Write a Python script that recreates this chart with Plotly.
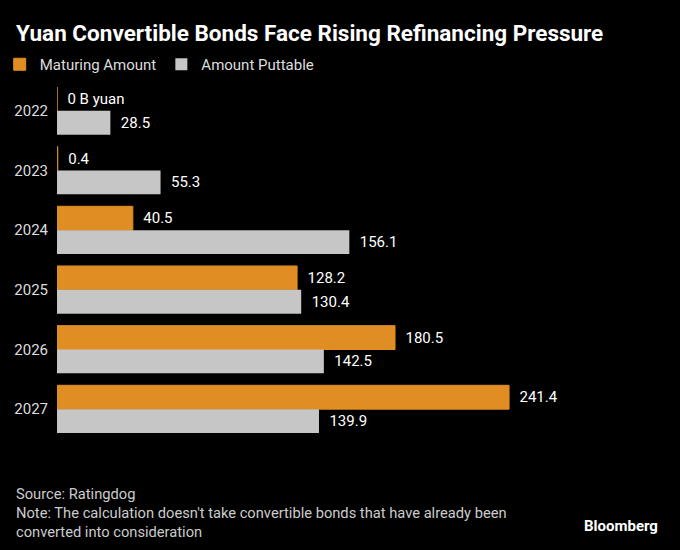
import plotly.graph_objects as go

years = ["2022", "2023", "2024", "2025", "2026", "2027"]
maturing = [0, 0.4, 40.5, 128.2, 180.5, 241.4]
puttable = [28.5, 55.3, 156.1, 130.4, 142.5, 139.9]
maturing_labels = ["0 B yuan", "0.4", "40.5", "128.2", "180.5", "241.4"]
puttable_labels = ["28.5", "55.3", "156.1", "130.4", "142.5", "139.9"]
footer_lines = [
    "Source: Ratingdog",
    "Note: The calculation doesn't take convertible bonds that have already been",
    "converted into consideration",
]

ORANGE = "#E08D24"
GREY = "#C6C6C6"
FONT = "Roboto, Arial, sans-serif"

fig = go.Figure()
fig.add_trace(go.Bar(
    y=years, x=maturing, orientation="h", name="Maturing Amount",
    marker=dict(color=ORANGE, line=dict(color=ORANGE, width=1)),
    text=["  " + t for t in maturing_labels], textposition="outside",
    textfont=dict(color="#ffffff", size=15, family=FONT),
    constraintext="none", cliponaxis=False,
))
fig.add_trace(go.Bar(
    y=years, x=puttable, orientation="h", name="Amount Puttable",
    marker=dict(color=GREY, line=dict(width=0)),
    text=["  " + t for t in puttable_labels], textposition="outside",
    textfont=dict(color="#ffffff", size=15, family=FONT),
    constraintext="none", cliponaxis=False,
))

annotations = [
    dict(text="<b>Yuan Convertible Bonds Face Rising Refinancing Pressure</b>",
         xref="paper", yref="paper", x=-0.071, y=1.0, xanchor="left", yanchor="bottom",
         yshift=33, showarrow=False,
         font=dict(family=FONT, size=22.5, color="#ffffff")),
    dict(text="<b>Bloomberg</b>", xref="paper", yref="paper", x=1.0, y=0,
         xanchor="right", yanchor="top", yshift=-76, showarrow=False,
         font=dict(family=FONT, size=15, color="#ffffff")),
    dict(text="<br>".join(footer_lines), xref="paper", yref="paper", x=-0.072, y=0,
         xanchor="left", yanchor="top", yshift=-44, showarrow=False,
         align="left", font=dict(family=FONT, size=14.7, color="#cccccc")),
]

fig.update_layout(
    width=680, height=550,
    paper_bgcolor="#000000", plot_bgcolor="#000000",
    margin=dict(l=57, r=20, t=81, b=111, autoexpand=False),
    barmode="group", bargap=0.2, bargroupgap=0,
    font=dict(family=FONT, color="#dddddd", size=15),
    showlegend=True,
    legend=dict(orientation="h", x=-0.095, xanchor="left", y=1.0, yanchor="bottom",
                font=dict(size=15, color="#dddddd", family=FONT),
                bgcolor="rgba(0,0,0,0)", itemwidth=30, traceorder="normal"),
    xaxis=dict(range=[0, 322], showgrid=False, zeroline=False, showticklabels=False,
               showline=False, fixedrange=True),
    yaxis=dict(type="category", autorange="reversed", showgrid=False, zeroline=False,
               showline=False, ticks="", ticklabelstandoff=8, fixedrange=True,
               tickfont=dict(size=15, color="#dddddd", family=FONT)),
    annotations=annotations,
)

fig.write_html("out.html", config={"displayModeBar": False},
               post_script="document.body.style.margin='0';")
